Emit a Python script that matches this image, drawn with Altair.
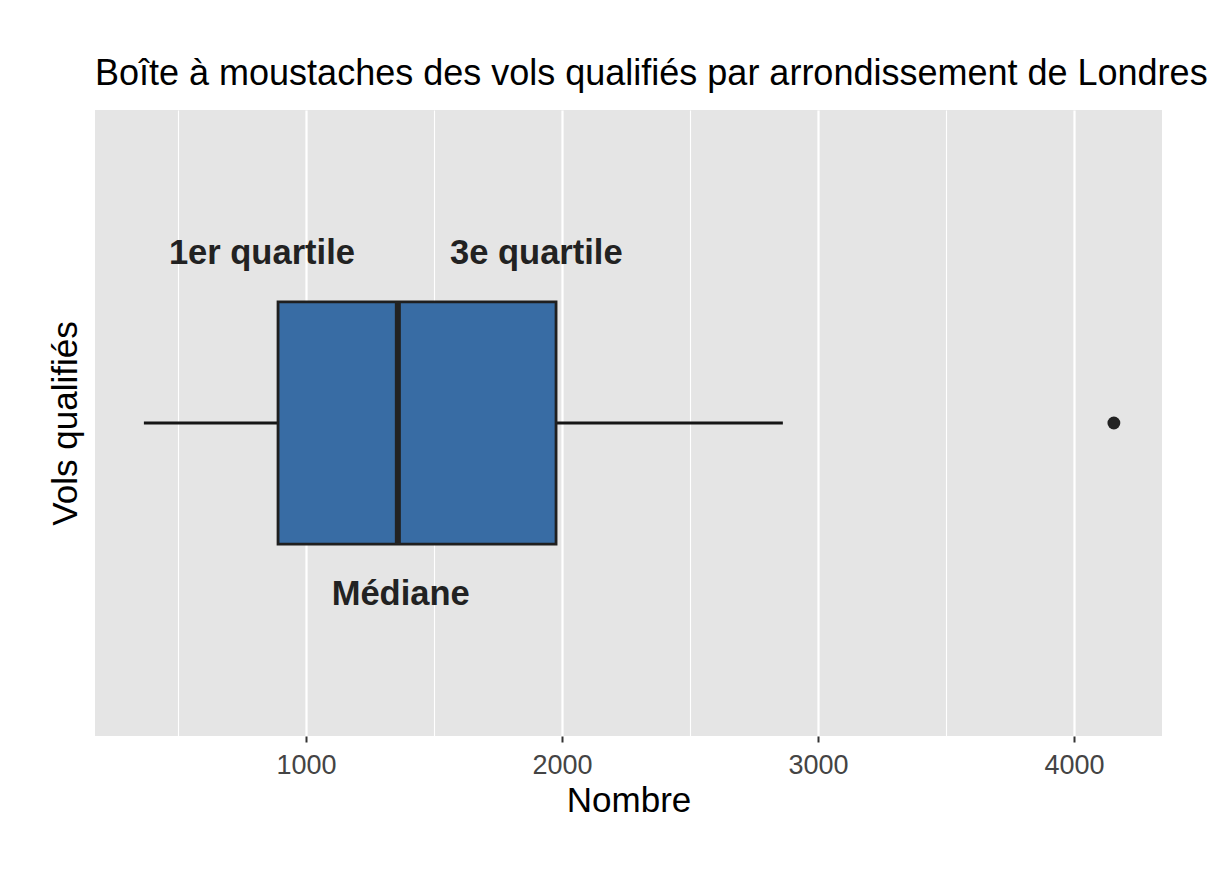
import altair as alt
import pandas as pd

# --- data ---
group = ["Vols qualifiés"]
whisker_low = [367]
q1 = [891]
median = [1359]
q3 = [1977]
whisker_high = [2863]
outliers = [4156]

label_text = ["1er quartile", "3e quartile", "Médiane"]
label_x = [828, 1900, 1370]
label_side = ["above", "above", "below"]

grid_values = [500, 1000, 1500, 2000, 2500, 3000, 3500, 4000]
x_domain = [176, 4344]

box_df = pd.DataFrame({
    "g": group, "lo": whisker_low, "q1": q1, "med": median,
    "q3": q3, "hi": whisker_high,
})
out_df = pd.DataFrame({"g": group * len(outliers), "v": outliers})
lab_df = pd.DataFrame({"g": group * len(label_text), "t": label_text,
                       "x": label_x, "side": label_side})

FONT = "Liberation Sans"
major = "datum.value % 1000 == 0"

x_axis = alt.Axis(
    values=grid_values, format="d", title="Nombre",
    labelExpr=f"{major} ? datum.label : ''",
    gridColor="white",
    gridWidth={"condition": {"test": major, "value": 2.2}, "value": 1.1},
    tickOpacity={"condition": {"test": major, "value": 1}, "value": 0},
    tickSize=6, tickWidth=2, tickColor="#333333", domain=False,
    labelFont=FONT, labelFontSize=27, labelColor="#444444", labelPadding=10,
    titleFont=FONT, titleFontSize=35, titleColor="black",
    titleFontWeight="normal", titlePadding=5,
)
x_scale = alt.Scale(domain=x_domain, nice=False, zero=False)

y_enc = alt.Y(
    "g:N",
    scale=alt.Scale(paddingInner=0, paddingOuter=0.793),
    axis=alt.Axis(title="Vols qualifiés", labels=False, ticks=False,
                  domain=False, grid=False, titleFont=FONT, titleFontSize=35,
                  titleColor="black", titleFontWeight="normal", titlePadding=12),
)

base = alt.Chart(box_df)

whisk_lo = base.mark_rule(color="#151515", strokeWidth=3).encode(
    x=alt.X("lo:Q", scale=x_scale, axis=x_axis), x2="q1:Q", y=y_enc)
whisk_hi = base.mark_rule(color="#151515", strokeWidth=3).encode(
    x="q3:Q", x2="hi:Q", y=y_enc)
box = base.mark_bar(fill="#386CA4", stroke="#1f1f1f", strokeWidth=2.8).encode(
    x="q1:Q", x2="q3:Q", y=y_enc)
med = base.mark_tick(color="#222222", thickness=6, size=242, opacity=1).encode(
    x="med:Q", y=y_enc)
pts = alt.Chart(out_df).mark_circle(size=165, color="#222222", opacity=1).encode(
    x="v:Q", y=y_enc)

txt_above = alt.Chart(lab_df).transform_filter("datum.side == 'above'").mark_text(
    font=FONT, fontSize=34.5, fontWeight="bold", color="#222222",
    align="center", baseline="middle", dy=-169).encode(
    x="x:Q", y=y_enc, text="t:N")
txt_below = alt.Chart(lab_df).transform_filter("datum.side == 'below'").mark_text(
    font=FONT, fontSize=34.5, fontWeight="bold", color="#222222",
    align="center", baseline="middle", dy=172).encode(
    x="x:Q", y=y_enc, text="t:N")

chart = alt.layer(whisk_lo, whisk_hi, box, med, pts, txt_above, txt_below).properties(
    width=1067, height=626,
    padding={"left": 87, "top": 102, "right": 46, "bottom": 110},
    autosize=alt.AutoSizeParams(type="none"),
    title=alt.TitleParams(
        text="Boîte à moustaches des vols qualifiés par arrondissement de Londres",
        anchor="start", frame="group", font=FONT, fontSize=36,
        fontWeight="normal", color="black", offset=17),
    background="white",
).configure_view(fill="#E5E5E5", strokeWidth=0)

chart.save("out.html", embed_options={"renderer": "svg", "actions": False})
